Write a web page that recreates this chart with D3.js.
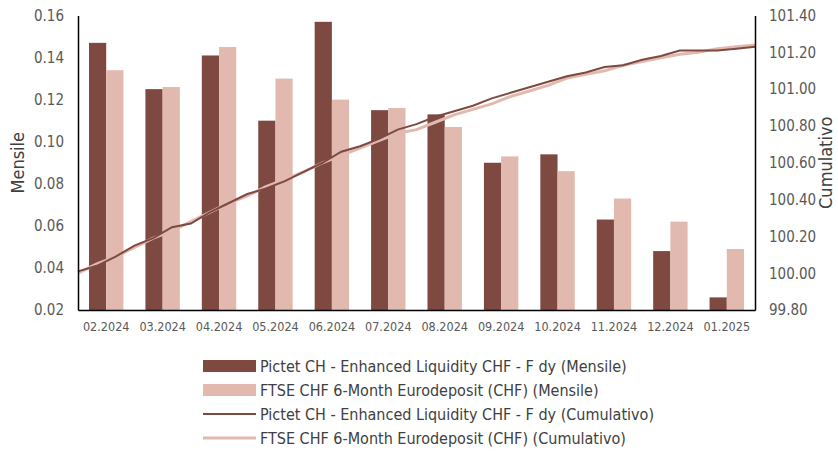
<!DOCTYPE html>
<html lang="it">
<head>
<meta charset="UTF-8">
<title>Mensile / Cumulativo</title>
<script src="https://d3js.org/d3.v7.min.js"></script>
<style>
    body { margin: 0; background: #fff; }
    text { font-family: "Liberation Sans Narrow", "DejaVu Sans Condensed", "Roboto", sans-serif; }
</style>
</head>
<body>
<svg width="838" height="453"></svg>
<script>
// months on the x axis
var months = ["02.2024", "03.2024", "04.2024", "05.2024", "06.2024", "07.2024",
    "08.2024", "09.2024", "10.2024", "11.2024", "12.2024", "01.2025"];

// monthly returns (bars, left axis)
var fundMonthly = [0.147, 0.125, 0.141, 0.110, 0.157, 0.115, 0.113, 0.090, 0.094, 0.063, 0.048, 0.026];
var benchMonthly = [0.134, 0.126, 0.145, 0.130, 0.120, 0.116, 0.107, 0.093, 0.086, 0.073, 0.062, 0.049];

// cumulative index (lines, right axis), read about every 10 days
var fundCumul = [100.01, 100.04, 100.09, 100.15, 100.19, 100.25, 100.27, 100.33, 100.38, 100.43,
    100.46, 100.50, 100.55, 100.60, 100.66, 100.69, 100.73, 100.78, 100.81, 100.85,
    100.88, 100.91, 100.95, 100.98, 101.01, 101.04, 101.07, 101.09, 101.12, 101.13,
    101.16, 101.18, 101.21, 101.21, 101.21, 101.22, 101.23];
var benchCumul = [100.00, 100.05, 100.09, 100.14, 100.19, 100.23, 100.28, 100.33, 100.38, 100.42,
    100.47, 100.51, 100.55, 100.60, 100.64, 100.68, 100.72, 100.76, 100.78, 100.82,
    100.86, 100.89, 100.92, 100.96, 100.99, 101.02, 101.06, 101.08, 101.10, 101.13,
    101.15, 101.17, 101.19, 101.20, 101.22, 101.23, 101.24];

var leftTicks = [0.02, 0.04, 0.06, 0.08, 0.10, 0.12, 0.14, 0.16];
var rightTicks = [99.8, 100.0, 100.2, 100.4, 100.6, 100.8, 101.0, 101.2, 101.4];

var legendLabels = [
    "Pictet CH - Enhanced Liquidity CHF - F dy (Mensile)",
    "FTSE CHF 6-Month Eurodeposit (CHF) (Mensile)",
    "Pictet CH - Enhanced Liquidity CHF - F dy (Cumulativo)",
    "FTSE CHF 6-Month Eurodeposit (CHF) (Cumulativo)"
];

var DARK = "#7d4940";
var LIGHT = "#e1b9af";

var svg = d3.select("svg");
var plotLeft = 78, plotRight = 755, plotTop = 15.5, plotBottom = 310;

// scales
var x = d3.scaleBand().domain(months).range([plotLeft, plotRight]).paddingInner(0.39).paddingOuter(0.195);
var xSub = d3.scaleBand().domain(["fund", "bench"]).range([0, x.bandwidth()]);
var yLeft = d3.scaleLinear().domain([0.02, 0.16]).range([plotBottom, plotTop]);
var yRight = d3.scaleLinear().domain([99.8, 101.4]).range([plotBottom, plotTop]);
var xLine = d3.scaleLinear().domain([0, fundCumul.length - 1]).range([plotLeft, plotRight]);

// bars
var g = svg.append("g");
months.forEach(function (m, i) {
    g.append("rect")
        .attr("x", x(m) + xSub("fund"))
        .attr("y", yLeft(fundMonthly[i]))
        .attr("width", xSub.bandwidth())
        .attr("height", plotBottom - yLeft(fundMonthly[i]))
        .style("fill", DARK);
    g.append("rect")
        .attr("x", x(m) + xSub("bench"))
        .attr("y", yLeft(benchMonthly[i]))
        .attr("width", xSub.bandwidth())
        .attr("height", plotBottom - yLeft(benchMonthly[i]))
        .style("fill", LIGHT);
});

// cumulative lines
var line = d3.line()
    .x(function (d, i) { return xLine(i); })
    .y(function (d) { return yRight(d); });

svg.append("path").datum(benchCumul)
    .attr("d", line)
    .style("fill", "none").style("stroke", LIGHT).style("stroke-width", 3);
svg.append("path").datum(fundCumul)
    .attr("d", line)
    .style("fill", "none").style("stroke", DARK).style("stroke-width", 2);

// axes
var axLeft = svg.append("g").attr("transform", "translate(" + plotLeft + ",0)")
    .call(d3.axisLeft(yLeft).tickValues(leftTicks).tickFormat(d3.format(".2f")).tickSize(0).tickPadding(14));
var axRight = svg.append("g").attr("transform", "translate(" + plotRight + ",0)")
    .call(d3.axisRight(yRight).tickValues(rightTicks).tickFormat(d3.format(".2f")).tickSize(0).tickPadding(14));
var axBottom = svg.append("g").attr("transform", "translate(0," + plotBottom + ")")
    .call(d3.axisBottom(x).tickSize(0).tickPadding(12));

[axLeft, axRight, axBottom].forEach(function (a) {
    a.select(".domain").style("stroke", "#000").style("stroke-width", 1.5);
    a.selectAll("text").style("fill", "#595959").style("font-family", null);
});
axLeft.selectAll("text").style("font-size", "15px");
axRight.selectAll("text").style("font-size", "15px");
axBottom.selectAll("text").style("font-size", "12.5px");

// axis titles
svg.append("text")
    .attr("transform", "translate(24," + ((plotTop + plotBottom) / 2) + ") rotate(-90)")
    .attr("text-anchor", "middle")
    .style("font-size", "18px").style("fill", "#404040")
    .text("Mensile");
svg.append("text")
    .attr("transform", "translate(832," + ((plotTop + plotBottom) / 2) + ") rotate(-90)")
    .attr("text-anchor", "middle")
    .style("font-size", "18px").style("fill", "#404040")
    .text("Cumulativo");

// legend
var legend = svg.append("g").attr("transform", "translate(203,366)");
legendLabels.forEach(function (lab, i) {
    var row = legend.append("g").attr("transform", "translate(0," + (i * 24) + ")");
    if (i < 2) {
        row.append("rect").attr("x", 0).attr("y", -6).attr("width", 53).attr("height", 12)
            .style("fill", i === 0 ? DARK : LIGHT);
    } else {
        row.append("line").attr("x1", 0).attr("x2", 53).attr("y1", 0).attr("y2", 0)
            .style("stroke", i === 2 ? DARK : LIGHT).style("stroke-width", i === 2 ? 2 : 3);
    }
    row.append("text").attr("x", 57).attr("y", 0).attr("dy", "0.35em")
        .style("font-size", "16px").style("fill", "#404040")
        .text(lab);
});
</script>
</body>
</html>
